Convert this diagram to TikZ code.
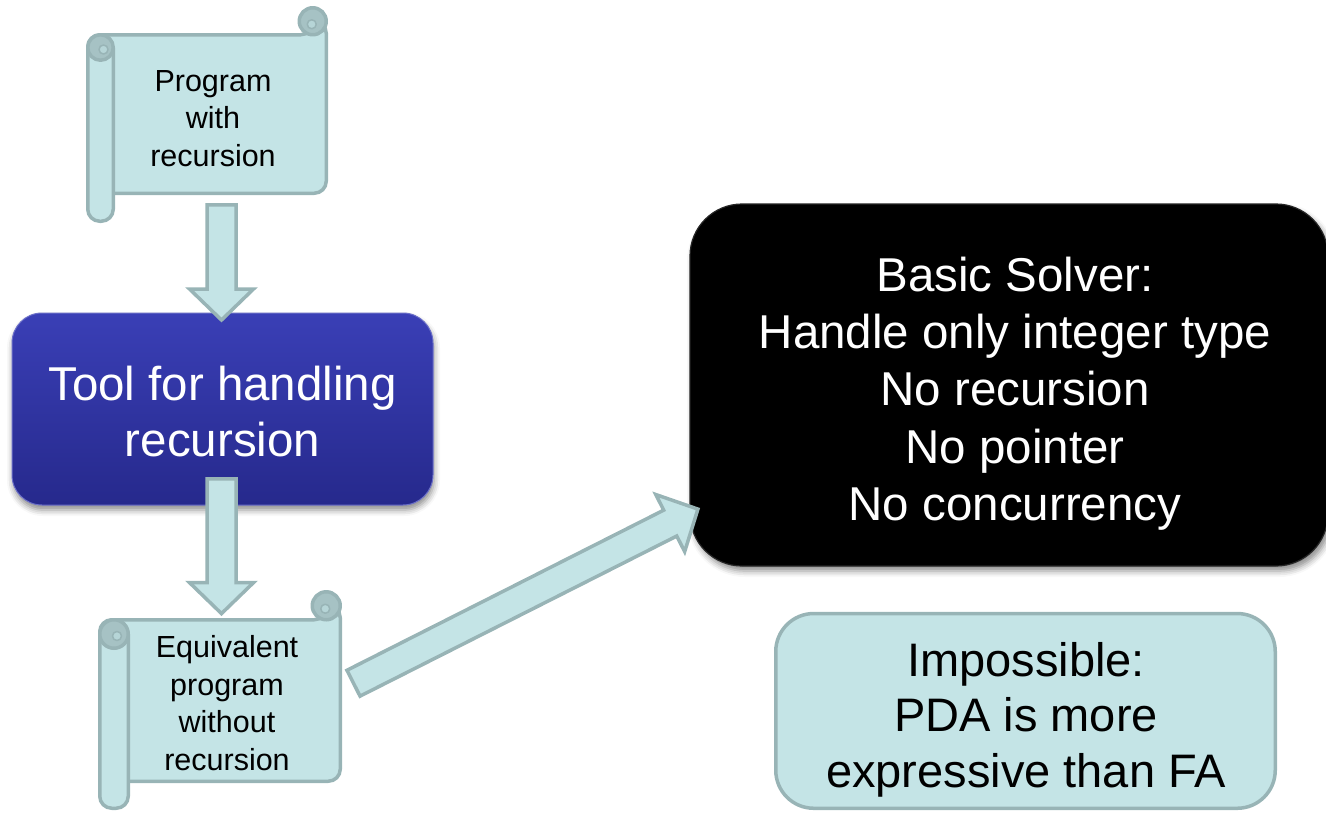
\documentclass[tikz,border=0pt]{standalone}
\usepackage{fontspec}
\setmainfont{Liberation Sans}
\usetikzlibrary{calc,shadows.blur}

\definecolor{paper}{RGB}{196,228,230}
\definecolor{rim}{RGB}{152,180,182}
\definecolor{rolldark}{RGB}{166,194,196}
\definecolor{tooltop}{RGB}{58,63,182}
\definecolor{toolbot}{RGB}{38,41,140}

\newcommand\fontpx[2]{\fontsize{#1pt}{#2pt}\selectfont}

% wide block arrow from tail coordinate #1 to tip coordinate #2
\newcommand\blockarrow[2]{%
  \coordinate (hb) at ($(#2)!31pt!(#1)$);
  \draw[flowarrow]
    ($(#1)!14.5pt!90:(#2)$) -- ($(hb)!14.5pt!90:(#2)$) -- ($(hb)!32pt!90:(#2)$)
    -- (#2)
    -- ($(hb)!32pt!-90:(#2)$) -- ($(hb)!14.5pt!-90:(#2)$) -- ($(#1)!14.5pt!-90:(#2)$) -- cycle;
}

% scroll: #1 tube left, #2 tube width, #3 body right, #4 body top, #5 body bottom,
% #6 tube bottom, #7 curl radius
\newcommand\scrollshape[7]{%
  \draw[scrollrim, fill=paper, rounded corners=12pt]
    (#1,#5) -- (#1,#4) -- ({#3-#7},#4) -- ({#3-#7},{#4-#7}) -- (#3,{#4-#7}) -- (#3,#5) -- cycle;
  % curl at the top right
  \draw[scrollrim, fill=rolldark] ({#3-#7},{#4-#7}) circle[radius=#7pt];
  \draw[scrollrim, line width=1.5pt, fill=paper!55!rolldark] ({#3-#7-1},{#4-#7+3}) circle[radius=4.5pt];
  % rolled tube on the left
  \draw[scrollrim, fill=paper, rounded corners=12pt]
    ({#1+#2},{#4+#2/2}) -- ({#1+#2},#6) -- (#1,#6) -- (#1,{#4+#2/2});
  \draw[scrollrim, fill=rolldark] ({#1+#2/2},{#4+#2/2}) circle[radius={#2/2}];
  \draw[scrollrim, line width=1.5pt, fill=paper!55!rolldark] ({#1+#2/2+3},{#4+#2/2+2}) circle[radius=4.5pt];
}

\tikzset{
  scrollrim/.style={draw=rim, line width=3.5pt, line join=round},
  flowarrow/.style={draw=rim, fill=paper, line width=3.5pt, line join=miter},
  scrolltext/.style={inner sep=0pt, align=center, anchor=north, text=black},
  bigtext/.style={inner sep=0pt, align=center, anchor=north},
  toolbox/.style={rounded corners=30pt, top color=tooltop, bottom color=toolbot,
    draw=tooltop!75!white, line width=1pt, inner sep=0pt,
    blur shadow={shadow xshift=1pt, shadow yshift=-5pt, shadow blur radius=6pt, shadow opacity=45}},
  solverbox/.style={rounded corners=52pt, fill=black, draw=black!85!white, line width=1.2pt, inner sep=0pt,
    blur shadow={shadow xshift=3pt, shadow yshift=-5pt, shadow blur radius=6pt, shadow opacity=45}},
  notebox/.style={rounded corners=38pt, fill=paper, draw=rim, line width=3.5pt, inner sep=0pt},
}

\begin{document}
\begin{tikzpicture}[x=1pt, y=-1pt]
  \useasboundingbox (0,0) rectangle (1326,812);

  % scrolls
  \scrollshape{87.75}{25.5}{326.25}{34.75}{193.25}{221.25}{13.5}
  \scrollshape{99.75}{28.5}{340.25}{619.75}{781.25}{808.25}{14}
  \node[scrolltext, font=\fontpx{30.5}{37.5}] (prog) at (213,69.9) {Program\\with\\recursion};
  \node[scrolltext, font=\fontpx{30.5}{37.7}] (equiv) at (227,635.2) {Equivalent\\program\\without\\recursion};

  % boxes
  \node[toolbox, minimum width=421pt, minimum height=192pt] (tool) at (222.5,409) {};
  \node[bigtext, text=white, font=\fontpx{47.5}{56}] (tooltext) at (222.5,366) {Tool for handling\\recursion};

  \node[solverbox, minimum width=638pt, minimum height=362pt] (solver) at (1009,385) {};
  \node[bigtext, text=white, font=\fontpx{47.5}{57.1}] (solvertext) at (1015,257.1)
    {Basic Solver:\\Handle only integer type\\No recursion\\No pointer\\No concurrency};

  \node[notebox, minimum width=499.5pt, minimum height=194.75pt] (imposs) at (1025.5,710.9) {};
  \node[bigtext, text=black, font=\fontpx{47}{55.5}] (impossText) at (1026,642)
    {Impossible:\\PDA is more\\expressive than FA};

  % arrows
  \coordinate (a1t) at (221.5,204.75);
  \coordinate (a1h) at (221.5,320);
  \coordinate (a2t) at (221.5,478.75);
  \coordinate (a2h) at (221.5,613.6);
  \coordinate (a3t) at (353.5,683.2);
  \coordinate (a3h) at (697.9,509.1);
  \blockarrow{a1t}{a1h}
  \blockarrow{a2t}{a2h}
  \blockarrow{a3t}{a3h}
\end{tikzpicture}
\end{document}
